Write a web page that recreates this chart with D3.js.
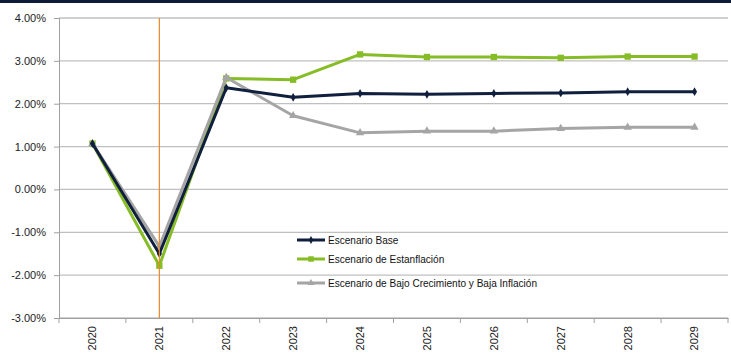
<!DOCTYPE html>
<html>
<head>
<meta charset="utf-8">
<script src="https://cdn.jsdelivr.net/npm/d3@7/dist/d3.min.js"></script>
<style>
  body { margin: 0; background: #fff; }
  svg { display: block; }
</style>
</head>
<body>
<svg id="chart" width="731" height="354"></svg>
<script>
// Años de proyección
const years = ["2020","2021","2022","2023","2024","2025","2026","2027","2028","2029"];

// Tasas por escenario (%)
const base        = [1.07, -1.50, 2.37, 2.15, 2.24, 2.22, 2.24, 2.25, 2.28, 2.28];
const estanflacion = [1.07, -1.78, 2.59, 2.56, 3.15, 3.09, 3.09, 3.07, 3.10, 3.10];
const bajoCrec    = [1.07, -1.33, 2.61, 1.72, 1.32, 1.36, 1.36, 1.42, 1.45, 1.45];

const yTicks = [4, 3, 2, 1, 0, -1, -2, -3];
const legendLabels = ["Escenario Base", "Escenario de Estanflación", "Escenario de Bajo Crecimiento y Baja Inflación"];

const series = [
  { name: legendLabels[1], values: estanflacion, color: "#86bc25", marker: "square" },
  { name: legendLabels[2], values: bajoCrec, color: "#a5a5a5", marker: "triangle" },
  { name: legendLabels[0], values: base, color: "#0f1f3d", marker: "diamond" }
];

const svg = d3.select("#chart");
const plotL = 59, plotR = 728, plotT = 18, plotB = 318;

const x = d3.scaleBand().domain(years).range([plotL, plotR]).padding(0);
const y = d3.scaleLinear().domain([-3, 4]).range([plotB, plotT]);

// Franja superior
svg.append("rect").attr("x", 0).attr("y", 0).attr("width", 731).attr("height", 3).attr("fill", "#0d1b38");

// Líneas de cuadrícula
svg.append("g").selectAll("line").data(yTicks).join("line")
  .attr("x1", plotL).attr("x2", plotR)
  .attr("y1", d => y(d)).attr("y2", d => y(d))
  .attr("stroke", "#c0c0c0").attr("stroke-width", 1.3);

// Eje Y
const yAxis = svg.append("g").attr("transform", `translate(${plotL},0)`)
  .call(d3.axisLeft(y).tickValues(yTicks).tickSize(5).tickPadding(8).tickFormat(d => d.toFixed(2) + "%"));
yAxis.select(".domain").attr("stroke", "#a0a0a0");
yAxis.selectAll(".tick line").attr("stroke", "#a0a0a0");
yAxis.selectAll("text").attr("font-family", "Liberation Sans, Arial, sans-serif").attr("font-size", 11).attr("fill", "#222");

// Eje X
const xAxis = svg.append("g").attr("transform", `translate(0,${plotB})`)
  .call(d3.axisBottom(x).tickSize(0).tickFormat(d => d));
xAxis.select(".domain").attr("stroke", "#a0a0a0");
xAxis.selectAll("text")
  .attr("font-family", "Liberation Sans, Arial, sans-serif")
  .attr("font-size", 11).attr("fill", "#222")
  .attr("transform", "rotate(-90)")
  .attr("text-anchor", "end").attr("dx", 0).attr("dy", "0.35em").attr("y", 0).attr("x", -8);
const edges = years.map(d => x(d)).concat([plotR]);
svg.append("g").selectAll("line").data(edges).join("line")
  .attr("x1", d => d).attr("x2", d => d).attr("y1", plotB).attr("y2", plotB + 5)
  .attr("stroke", "#a0a0a0");

const cx = d => x(d) + x.bandwidth() / 2;
const line = d3.line().x((v, i) => cx(years[i])).y(v => y(v));

function symType(m) {
  return m === "square" ? d3.symbolSquare : m === "triangle" ? d3.symbolTriangle : d3.symbolDiamond;
}

series.forEach(s => {
  svg.append("path").datum(s.values)
    .attr("d", line).attr("fill", "none")
    .attr("stroke", s.color).attr("stroke-width", 3).attr("stroke-linejoin", "round");
  const size = s.marker === "square" ? 40 : s.marker === "triangle" ? 30 : 22;
  svg.append("g").selectAll("path").data(s.values).join("path")
    .attr("transform", (v, i) => `translate(${cx(years[i])},${y(v)})`)
    .attr("d", d3.symbol().type(symType(s.marker)).size(size))
    .attr("fill", s.color);
});

// Línea vertical de referencia en 2021
svg.append("line")
  .attr("x1", cx("2021")).attr("x2", cx("2021"))
  .attr("y1", plotT).attr("y2", plotB)
  .attr("stroke", "#e58a2a").attr("stroke-width", 1.2);

// Leyenda
const legendOrder = [series[2], series[0], series[1]];
const lg = svg.append("g");
const ly = [240, 259, 283];
legendOrder.forEach((s, i) => {
  const g = lg.append("g").attr("transform", `translate(297,${ly[i]})`);
  g.append("line").attr("x1", 0).attr("x2", 28).attr("stroke", s.color).attr("stroke-width", 3);
  const size = s.marker === "square" ? 30 : s.marker === "triangle" ? 22 : 18;
  g.append("path").attr("transform", "translate(14,0)").attr("d", d3.symbol().type(symType(s.marker)).size(size)).attr("fill", s.color);
  g.append("text").attr("transform", "translate(31,0) scale(0.915,1)").attr("dy", "0.35em")
    .attr("font-family", "Liberation Sans, Arial, sans-serif")
    .attr("font-size", 11).attr("fill", "#111").text(s.name);
});
</script>
</body>
</html>
